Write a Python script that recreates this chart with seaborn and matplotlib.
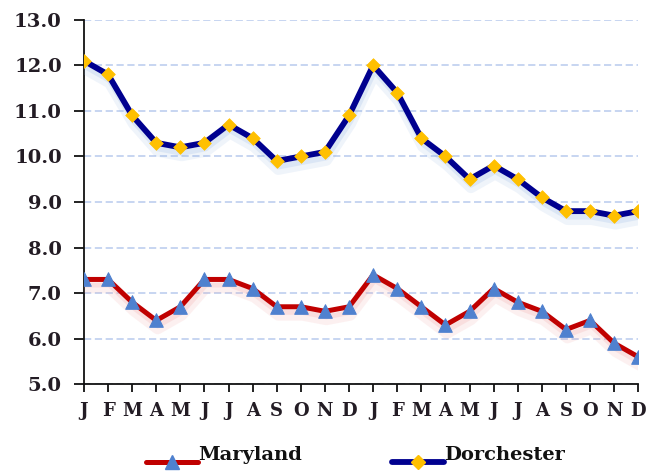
import numpy as np
import pandas as pd
import matplotlib
matplotlib.use("Agg")
import matplotlib.pyplot as plt
import matplotlib.patheffects as pe
from matplotlib.lines import Line2D
from matplotlib.legend_handler import HandlerLine2D
import seaborn as sns

# Data (two years, monthly)
months = ["J", "F", "M", "A", "M", "J", "J", "A", "S", "O", "N", "D"] * 2
maryland = [7.3, 7.3, 6.8, 6.4, 6.7, 7.3, 7.3, 7.1, 6.7, 6.7, 6.6, 6.7,
            7.4, 7.1, 6.7, 6.3, 6.6, 7.1, 6.8, 6.6, 6.2, 6.4, 5.9, 5.6]
dorchester = [12.1, 11.8, 10.9, 10.3, 10.2, 10.3, 10.7, 10.4, 9.9, 10.0, 10.1, 10.9,
              12.0, 11.4, 10.4, 10.0, 9.5, 9.8, 9.5, 9.1, 8.8, 8.8, 8.7, 8.8]
yticks = [5, 6, 7, 8, 9, 10, 11, 12, 13]

df = pd.DataFrame({"pos": np.arange(len(months)), "Maryland": maryland, "Dorchester": dorchester})

sns.set_style("white")
plt.rcParams["font.family"] = ["DejaVu Serif"]

fig = plt.figure(figsize=(6.56, 4.72), dpi=100)
ax = fig.add_axes([0.128, 0.186, 0.845, 0.772])

red = "#c00000"
navy = "#00008f"
tri = "#4f81cf"
gold = "#ffc000"


def soft_shadow(col):
    # faint offset copies under the line, a rough stand-in for the blurred glow
    return [pe.SimpleLineShadow(offset=(1, -6), shadow_color=col, alpha=0.14, linewidth=8),
            pe.SimpleLineShadow(offset=(1, -4), shadow_color=col, alpha=0.2),
            pe.Normal()]


# lines with shadow, markers drawn on top without it
sns.lineplot(data=df, x="pos", y="Maryland", ax=ax, color=red, linewidth=3.6,
             path_effects=soft_shadow("#f09a9a"))
sns.lineplot(data=df, x="pos", y="Dorchester", ax=ax, color=navy, linewidth=4.2,
             path_effects=soft_shadow("#8fb2e2"))
sns.scatterplot(data=df, x="pos", y="Maryland", ax=ax, marker="^", s=95,
                color=tri, edgecolor=tri, zorder=5)
sns.scatterplot(data=df, x="pos", y="Dorchester", ax=ax, marker="D", s=48,
                color=gold, edgecolor=gold, zorder=5)

ax.set_xlim(0, len(months) - 1)
ax.set_ylim(5, 13)
ax.set_yticks(yticks)
ax.set_yticklabels([f"{v:.1f}" for v in yticks])
ax.set_xticks(df["pos"])
ax.set_xticklabels(months)
ax.set_xlabel("")
ax.set_ylabel("")

ax.yaxis.grid(True, linestyle=(0, (4, 2)), color="#c3d2f0", linewidth=1.3)
ax.xaxis.grid(False)
ax.set_axisbelow(True)

for side in ["top", "right"]:
    ax.spines[side].set_visible(False)
for side in ["left", "bottom"]:
    ax.spines[side].set_color("#111111")
    ax.spines[side].set_linewidth(1.3)
    ax.spines[side].set_zorder(1)

label_color = "#231c24"
ax.tick_params(axis="y", length=7, width=1.3, color="#111111", pad=9,
               labelsize=14, labelcolor=label_color, left=True)
ax.tick_params(axis="x", length=6, width=1.3, color="#111111", pad=7,
               labelsize=13, labelcolor=label_color, bottom=True)
for lab in ax.get_xticklabels() + ax.get_yticklabels():
    lab.set_fontweight("bold")


class LowLine(HandlerLine2D):
    # the legend sample sits a bit below the text in the original
    def create_artists(self, *args, **kwargs):
        arts = super().create_artists(*args, **kwargs)
        for a in arts:
            a.set_ydata(np.asarray(a.get_ydata()) - 6)
        return arts


handles = [
    Line2D([], [], color=red, linewidth=3.6, marker="^", markersize=10,
           markerfacecolor=tri, markeredgecolor=tri),
    Line2D([], [], color=navy, linewidth=4.2, marker="D", markersize=7,
           markerfacecolor=gold, markeredgecolor=gold),
]
fig.legend(handles, ["Maryland", "Dorchester"], loc="center",
           bbox_to_anchor=(0.542, 0.036), ncol=2, frameon=False,
           handlelength=2.7, handletextpad=0.0, columnspacing=4.6,
           handler_map={Line2D: LowLine()}, labelcolor="#111111",
           prop={"family": "DejaVu Serif", "weight": "bold", "size": 14})

fig.savefig("out.png", dpi=100)
